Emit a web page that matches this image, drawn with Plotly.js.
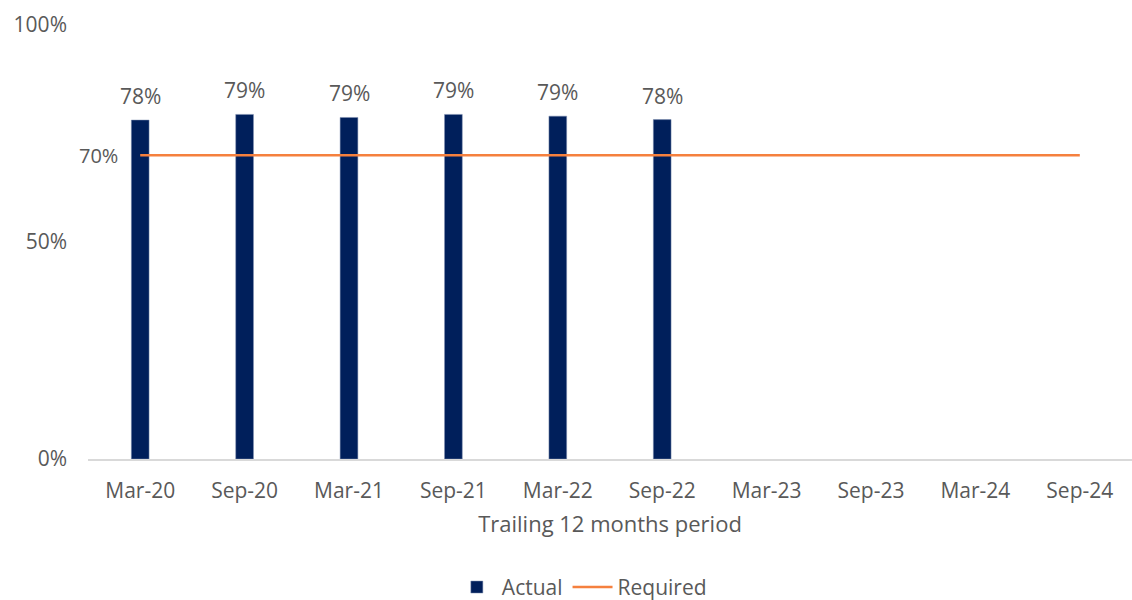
<!DOCTYPE html>
<html>
<head>
<meta charset="utf-8">
<script src="https://cdn.plot.ly/plotly-3.0.1.min.js"></script>
<style>html,body{margin:0;padding:0;background:#fff;}#chart{width:1132px;height:600px;}</style>
</head>
<body>
<div id="chart"></div>
<script>
const categories = ["Mar-20","Sep-20","Mar-21","Sep-21","Mar-22","Sep-22","Mar-23","Sep-23","Mar-24","Sep-24"];
const actual = [78.1, 79.4, 78.7, 79.4, 79.0, 78.2, null, null, null, null];
const required = [70, 70, 70, 70, 70, 70, 70, 70, 70, 70];
const yTickVals = [0, 50, 100];
const yTickText = ["0%", "50%", "100%"];
const requiredLabel = "70%";

const fontFam = "'Open Sans', 'DejaVu Sans', sans-serif";
const grey = "#595959";

const traces = [
  {
    type: "bar", name: "Actual", x: categories, y: actual,
    marker: {color: "#001f5b", line: {color: "#7f8fb0", width: 0.5}},
    width: 0.17, hoverinfo: "skip"
  },
  {
    type: "scatter", mode: "lines", name: "Required", x: categories, y: required,
    line: {color: "#f5803e", width: 2.5}, hoverinfo: "skip"
  }
];

const annotations = actual.map((v, i) => v == null ? null : ({
  x: categories[i], y: v, xref: "x", yref: "y",
  text: Math.round(v) + "%", showarrow: false,
  yanchor: "bottom", yshift: 8,
  font: {family: fontFam, size: 21, color: grey}
})).filter(a => a);

annotations.push({
  x: 0, y: required[0], xref: "paper", yref: "y",
  text: requiredLabel, showarrow: false, xanchor: "right", xshift: 32,
  font: {family: fontFam, size: 20, color: grey}
});

const layout = {
  width: 1132, height: 600,
  margin: {l: 88, r: 0, t: 25, b: 141},
  paper_bgcolor: "#fff", plot_bgcolor: "#fff",
  font: {family: fontFam, color: grey, size: 21},
  xaxis: {
    type: "category", showgrid: false, showline: true, linecolor: "#d9d9d9", linewidth: 1.5,
    ticks: "", tickfont: {size: 21, color: grey}, ticklabelstandoff: 12,
    title: {text: "Trailing 12 months period", font: {size: 22, color: grey}, standoff: 14},
    zeroline: false, fixedrange: true
  },
  yaxis: {
    range: [0, 100], tickvals: yTickVals, ticktext: yTickText,
    showgrid: false, zeroline: false, showline: false, ticks: "",
    tickfont: {size: 21, color: grey}, ticklabelstandoff: 20, fixedrange: true
  },
  showlegend: true,
  legend: {
    orientation: "h", xref: "container", yref: "container",
    x: 0.514, xanchor: "center", y: 0.021, yanchor: "middle",
    font: {size: 21, color: grey}, itemwidth: 40, traceorder: "normal"
  },
  annotations: annotations,
  bargap: 0
};

Plotly.newPlot("chart", traces, layout, {displayModeBar: false, staticPlot: true});
</script>
</body>
</html>
